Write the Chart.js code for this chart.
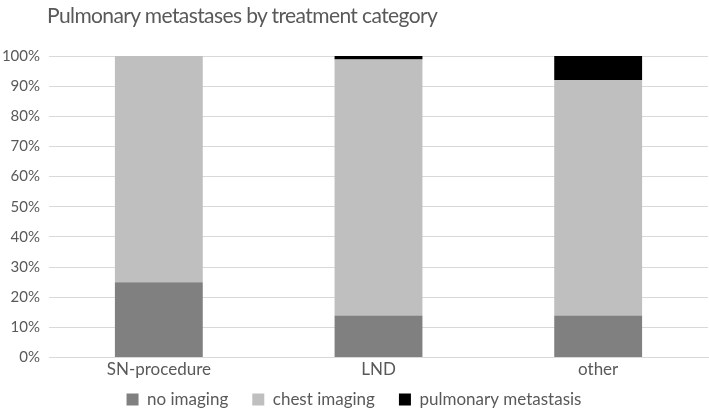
<!DOCTYPE html>
<html>
<head>
<meta charset="utf-8">
<script src="https://cdn.jsdelivr.net/npm/chart.js@4"></script>
<style>
  body { margin: 0; background: #fff; }
  #wrap { position: relative; width: 709px; height: 410px; }
  #title {
    position: absolute; left: 47px; top: 2px;
    font-family: Lato, "Open Sans", sans-serif; font-size: 21px;
    letter-spacing: -0.6px;
    color: #595959; white-space: nowrap;
  }
</style>
</head>
<body>
<div id="wrap">
  <div id="title">Pulmonary metastases by treatment category</div>
  <canvas id="myChart" width="709" height="410"></canvas>
</div>
<script>
// values, in percent
var categories = ['SN-procedure', 'LND', 'other'];
var noImaging = [25, 14, 14];
var chestImaging = [75, 84.8, 78];
var pulmonaryMetastasis = [0, 1.2, 8];

var fontFamily = 'Lato, "Open Sans", sans-serif';
var grey = '#595959';

var chartdata = {
	labels: categories,
	datasets: [
		{ label: 'no imaging', backgroundColor: '#808080', data: noImaging },
		{ label: 'chest imaging', backgroundColor: '#bfbfbf', data: chestImaging },
		{ label: 'pulmonary metastasis', backgroundColor: '#000000', data: pulmonaryMetastasis }
	]
};

// wide gaps between legend items but keep the legend row close to the axis
var legendShift = {
	id: 'legendShift',
	afterLayout: function(chart) {
		chart.legend.top -= 15;
	}
};

var ctx = document.getElementById('myChart');

var barGraph = new Chart(ctx, {
	type: 'bar',
	data: chartdata,
	plugins: [legendShift],
	options: {
		responsive: false,
		animation: false,
		layout: { padding: { left: 0, right: 1, top: 56, bottom: -3 } },
		datasets: { bar: { barPercentage: 0.4, categoryPercentage: 1 } },
		plugins: {
			legend: {
				position: 'bottom',
				maxHeight: 31,
				labels: {
					color: grey,
					boxWidth: 12,
					boxHeight: 12,
					padding: 24,
					font: { family: fontFamily, size: 17 }
				}
			},
			tooltip: { enabled: false }
		},
		scales: {
			x: {
				stacked: true,
				grid: { display: false, drawTicks: false },
				border: { color: '#d9d9d9' },
				ticks: { color: grey, font: { family: fontFamily, size: 17 }, padding: 2 }
			},
			y: {
				stacked: true,
				min: 0,
				max: 100,
				afterFit: function(axis) { axis.width = 49; },
				grid: { color: '#d9d9d9', drawTicks: false },
				border: { display: false },
				ticks: {
					stepSize: 10,
					color: grey,
					padding: 9,
					font: { family: fontFamily, size: 15 },
					callback: function(v) { return v + '%'; }
				}
			}
		}
	}
});
</script>
</body>
</html>
